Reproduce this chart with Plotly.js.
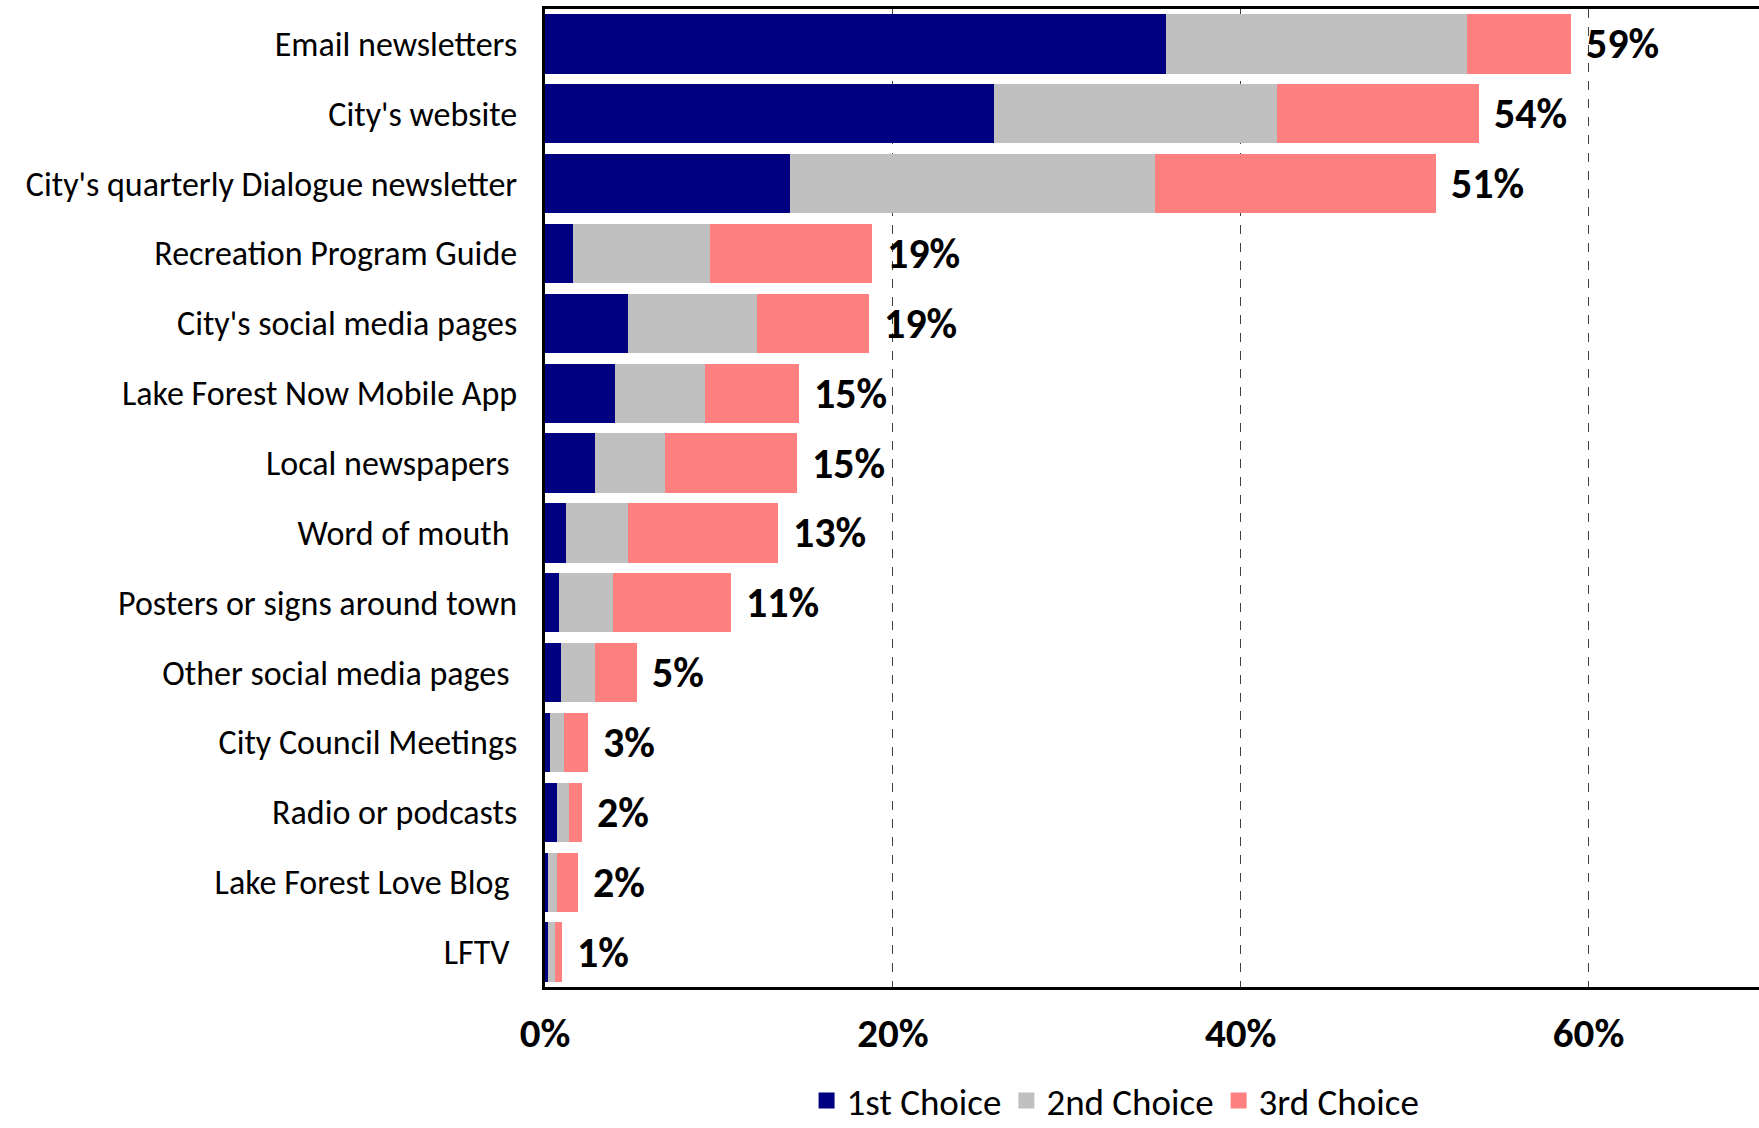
<!DOCTYPE html>
<html>
<head>
<meta charset="utf-8">
<script src="https://cdn.plot.ly/plotly-3.0.1.min.js"></script>
<style>
html,body{margin:0;padding:0;background:#fff;}
#chart{width:1759px;height:1128px;}
</style>
</head>
<body>
<div id="chart"></div>
<script>
const categories = [
  "Email newsletters",
  "City's website",
  "City's quarterly Dialogue newsletter",
  "Recreation Program Guide",
  "City's social media pages",
  "Lake Forest Now Mobile App",
  "Local newspapers\u00a0",
  "Word of mouth\u00a0",
  "Posters or signs around town",
  "Other social media pages\u00a0",
  "City Council Meetings",
  "Radio or podcasts",
  "Lake Forest Love Blog\u00a0",
  "LFTV\u00a0"
];
const firstChoice  = [35.7, 25.8, 14.1, 1.6, 4.8, 4.0, 2.9, 1.2, 0.8, 0.9, 0.3, 0.7, 0.2, 0.2];
const secondChoice = [17.3, 16.3, 21.0, 7.9, 7.4, 5.2, 4.0, 3.6, 3.1, 2.0, 0.8, 0.7, 0.5, 0.4];
const thirdChoice  = [ 6.0, 11.6, 16.1, 9.3, 6.4, 5.4, 7.6, 8.6, 6.8, 2.4, 1.4, 0.7, 1.2, 0.4];
const totalLabels  = ["59%", "54%", "51%", "19%", "19%", "15%", "15%", "13%", "11%", "5%", "3%", "2%", "2%", "1%"];
const seriesNames  = ["1st Choice", "2nd Choice", "3rd Choice"];
const xTickVals    = [0, 20, 40, 60];
const xTickText    = ["0%", "20%", "40%", "60%"];

const FONT = "Carlito, Calibri, Lato, sans-serif";
const colors = ["#000080", "#C0C0C0", "#FF8080"];
const series = [firstChoice, secondChoice, thirdChoice];

const traces = series.map((vals, i) => ({
  type: "bar",
  orientation: "h",
  name: seriesNames[i],
  x: vals,
  y: categories,
  marker: {color: colors[i], line: {width: 0}},
  showlegend: false,
  hoverinfo: "x+y+name"
}));

// legend-only entries with larger square swatches
seriesNames.forEach((n, i) => {
  traces.push({
    type: "scatter", mode: "markers", name: n,
    x: [null], y: [null],
    marker: {symbol: "square", size: 30, color: colors[i]},
    showlegend: true, hoverinfo: "skip"
  });
});

const totals = categories.map((c, k) => firstChoice[k] + secondChoice[k] + thirdChoice[k]);
const annotations = categories.map((c, k) => ({
  x: totals[k], y: c, xref: "x", yref: "y",
  text: totalLabels[k], showarrow: false,
  xanchor: "left", yanchor: "middle", xshift: 13,
  font: {family: FONT, size: 42, color: "#000", weight: "bold"}
}));

const layout = {
  width: 1759, height: 1128,
  margin: {l: 545, r: 0, t: 9, b: 141, pad: 0},
  paper_bgcolor: "#fff", plot_bgcolor: "#fff",
  barmode: "stack",
  bargap: 0.15,
  font: {family: FONT, color: "#000"},
  showlegend: true,
  legend: {
    orientation: "h", x: 0.47, xanchor: "center",
    yref: "container", y: 0.024, yanchor: "middle",
    font: {family: FONT, size: 37, color: "#000"},
    traceorder: "normal", itemwidth: 30, tracegroupgap: 0
  },
  xaxis: {
    range: [0, 69.8], fixedrange: true,
    tickvals: xTickVals, ticktext: xTickText,
    showgrid: true, gridcolor: "#404040", gridwidth: 1, griddash: "dash",
    zeroline: false,
    showline: true, linecolor: "#000", linewidth: 3, mirror: true,
    ticks: "", ticklabelstandoff: 8,
    tickfont: {family: FONT, size: 41, color: "#000", weight: "bold"}
  },
  yaxis: {
    type: "category", autorange: "reversed", fixedrange: true,
    showgrid: false, zeroline: false,
    showline: true, linecolor: "#000", linewidth: 3,
    ticks: "", ticklabelstandoff: 18,
    tickfont: {family: FONT, size: 34, color: "#000"}
  },
  annotations: annotations
};

Plotly.newPlot("chart", traces, layout, {displayModeBar: false, staticPlot: true});
</script>
</body>
</html>
